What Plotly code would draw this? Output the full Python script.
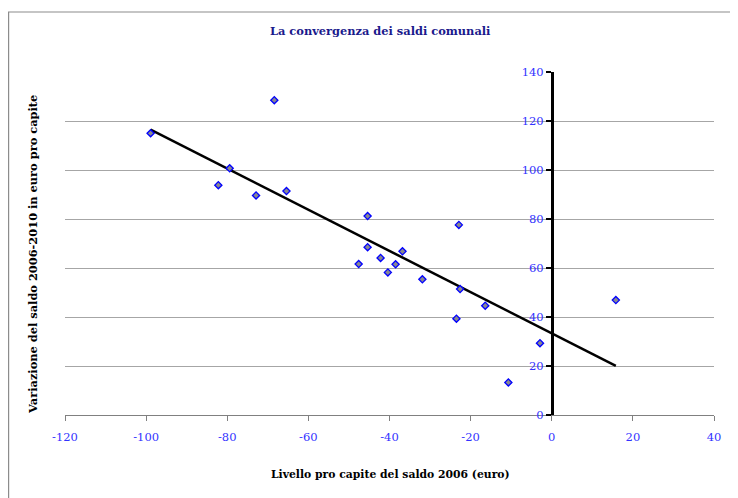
import numpy as np
import plotly.graph_objects as go

# Livello pro capite del saldo 2006 (euro)
livello_2006 = [-98.9, -68.4, -79.4, -82.2, -72.9, -65.4, -45.4, -22.9, -45.4, -47.6,
                -42.2, -36.8, -38.5, -40.4, -31.9, -22.6, -16.4, -23.5, -2.9, -10.7, 15.8]
# Variazione del saldo 2006-2010 in euro pro capite
variazione = [115.0, 128.5, 100.7, 93.8, 89.6, 91.4, 81.2, 77.6, 68.5, 61.6,
              64.1, 66.8, 61.5, 58.2, 55.4, 51.4, 44.6, 39.3, 29.3, 13.3, 46.9]

x_ticks = [-120, -100, -80, -60, -40, -20, 0, 20, 40]
x_tick_labels = ["-120", "-100", "-80", "-60", "-40", "-20", "0", "20", "40"]
y_ticks = [0, 20, 40, 60, 80, 100, 120, 140]
y_tick_labels = ["0", "20", "40", "60", "80", "100", "120", "140"]

title_text = "La convergenza dei saldi comunali"
x_title = "Livello pro capite del saldo 2006 (euro)"
y_title = "Variazione del saldo 2006-2010 in euro pro capite"

# linear trendline (least squares) over the data range
slope, intercept = np.polyfit(livello_2006, variazione, 1)
trend_x = [min(livello_2006), max(livello_2006)]
trend_y = [slope * v + intercept for v in trend_x]

FONT = "DejaVu Serif"
BLUE = "#3333ff"

fig = go.Figure()
fig.add_trace(go.Scatter(
    x=trend_x, y=trend_y, mode="lines",
    line=dict(color="black", width=2.5), hoverinfo="skip", showlegend=False))
fig.add_trace(go.Scatter(
    x=livello_2006, y=variazione, mode="markers",
    marker=dict(symbol="diamond", size=5.5, color="#888890",
                line=dict(color="#0000ff", width=1.3)),
    showlegend=False))

# page body has an 8px margin; positions below are in screen pixels
OFF = 8
W, H = 738, 498
ml, mt = 65 - OFF, 72 - OFF
pw, ph = 649, 343
mr = W - ml - pw
mb = H - mt - ph

def px_to_paper_x(px):
    return (px - OFF - ml) / pw

def px_to_paper_y(py):
    return (mt + ph - (py - OFF)) / ph

fig.update_layout(
    width=W, height=H,
    margin=dict(l=ml, r=mr, t=mt, b=mb),
    paper_bgcolor="white", plot_bgcolor="white",
    font=dict(family=FONT, size=11, color="black"),
    xaxis=dict(range=[-120, 40], tickvals=x_ticks, ticktext=x_tick_labels,
               showgrid=False, zeroline=False,
               showline=True, linecolor="#808080", linewidth=1.2,
               ticks="outside", ticklen=5, tickcolor="#808080", tickwidth=1.2,
               tickfont=dict(family=FONT, size=11.5, color=BLUE),
               ticklabelstandoff=6, fixedrange=True),
    yaxis=dict(range=[0, 140], tickvals=y_ticks, ticktext=y_tick_labels,
               showgrid=True, gridcolor="#a6a6a6",
               gridwidth=1, zeroline=False,
               anchor="free", position=0.75,
               showline=True, linecolor="black", linewidth=2.5,
               ticks="outside", ticklen=5, tickcolor="black", tickwidth=1.5,
               tickfont=dict(family=FONT, size=11.5, color=BLUE), fixedrange=True),
    shapes=[dict(type="rect", xref="paper", yref="paper",
                 x0=px_to_paper_x(8.6), x1=px_to_paper_x(W + 30),
                 y0=px_to_paper_y(H + 30), y1=px_to_paper_y(12),
                 line=dict(color="#8c8c8c", width=1.2), fillcolor="rgba(0,0,0,0)",
                 layer="below")],
    annotations=[
        dict(text="<b>" + title_text + "</b>", xref="paper", yref="paper",
             x=px_to_paper_x(380), y=px_to_paper_y(31), showarrow=False,
             xanchor="center", yanchor="middle",
             font=dict(family=FONT, size=11.4, color="#1a1a8c")),
        dict(text="<b>" + x_title + "</b>", xref="paper", yref="paper",
             x=px_to_paper_x(390), y=px_to_paper_y(475), showarrow=False,
             xanchor="center", yanchor="middle",
             font=dict(family=FONT, size=10.8, color="black")),
        dict(text="<b>" + y_title + "</b>", xref="paper", yref="paper",
             x=px_to_paper_x(33), y=px_to_paper_y(255), showarrow=False,
             xanchor="center", yanchor="middle", textangle=-90,
             font=dict(family=FONT, size=11.4, color="black")),
    ],
)

fig.write_html("out.html")
